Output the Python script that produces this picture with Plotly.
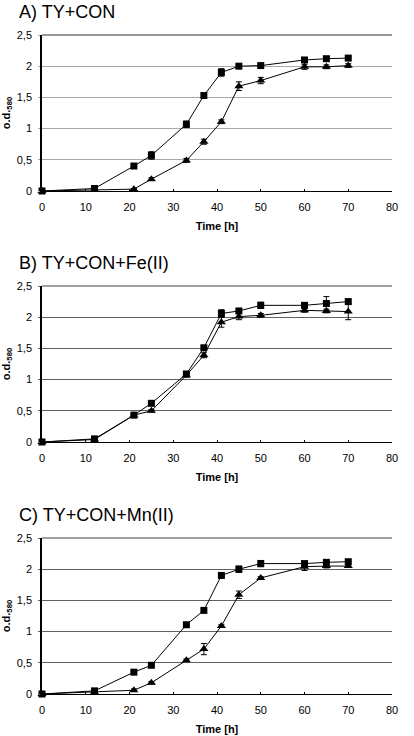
import plotly.graph_objects as go

time_h = [0, 12, 21, 25, 33, 37, 41, 45, 50, 60, 65, 70]

titles = ["A) TY+CON", "B) TY+CON+Fe(II)", "C) TY+CON+Mn(II)"]

sq_A = [0.0, 0.04, 0.40, 0.57, 1.07, 1.53, 1.90, 2.00, 2.01, 2.10, 2.12, 2.13]
sq_A_err = [0.01, 0.02, 0.02, 0.06, 0.05, 0.03, 0.06, 0.02, 0.03, 0.02, 0.02, 0.03]
tr_A = [0.0, 0.02, 0.03, 0.19, 0.49, 0.79, 1.11, 1.68, 1.77, 1.99, 1.99, 2.01]
tr_A_err = [0.01, 0.01, 0.01, 0.02, 0.03, 0.04, 0.03, 0.07, 0.05, 0.04, 0.03, 0.03]

sq_B = [0.0, 0.05, 0.43, 0.62, 1.09, 1.51, 2.06, 2.10, 2.19, 2.19, 2.22, 2.25]
sq_B_err = [0.01, 0.01, 0.02, 0.02, 0.03, 0.03, 0.06, 0.02, 0.05, 0.03, 0.11, 0.04]
tr_B = [0.0, 0.04, 0.43, 0.50, 1.07, 1.39, 1.92, 2.01, 2.03, 2.11, 2.10, 2.09]
tr_B_err = [0.01, 0.01, 0.02, 0.02, 0.03, 0.04, 0.08, 0.05, 0.03, 0.03, 0.03, 0.13]

sq_C = [0.0, 0.05, 0.35, 0.46, 1.11, 1.34, 1.90, 2.00, 2.09, 2.09, 2.11, 2.12]
sq_C_err = [0.01, 0.02, 0.02, 0.02, 0.03, 0.03, 0.02, 0.05, 0.05, 0.03, 0.02, 0.03]
tr_C = [0.0, 0.03, 0.06, 0.18, 0.54, 0.72, 1.09, 1.59, 1.86, 2.04, 2.05, 2.05]
tr_C_err = [0.01, 0.01, 0.02, 0.02, 0.02, 0.09, 0.02, 0.06, 0.02, 0.06, 0.03, 0.02]

y_ticks = [0, 0.5, 1, 1.5, 2, 2.5]
x_ticks = [0, 10, 20, 30, 40, 50, 60, 70, 80]

panels = [
    (sq_A, sq_A_err, tr_A, tr_A_err),
    (sq_B, sq_B_err, tr_B, tr_B_err),
    (sq_C, sq_C_err, tr_C, tr_C_err),
]

H = 736.0
W = 414.0
plot_tops = [35, 286, 538]
plot_h = 156
x0, x1 = 42 / W, 392 / W
grid_colors = ["#a8a8a8", "#606060", "#606060"]
top_colors = ["#333333", "#444444", "#444444"]
FONT = "Arial, Liberation Sans, sans-serif"

fig = go.Figure()
layout = dict(
    width=414, height=736,
    margin=dict(l=0, r=0, t=0, b=0),
    paper_bgcolor="white", plot_bgcolor="white",
    showlegend=False,
    separators=", ",
    font=dict(family=FONT, size=11, color="black"),
)
annotations = []
shapes = []
for i, (sq, sqe, tr, tre) in enumerate(panels):
    n = i + 1
    xa = "x" if n == 1 else f"x{n}"
    ya = "y" if n == 1 else f"y{n}"
    top = plot_tops[i]
    d0 = 1 - (top + plot_h) / H
    d1 = 1 - top / H
    common = dict(x=time_h, xaxis=xa, yaxis=ya, mode="lines+markers",
                  line=dict(color="black", width=1), cliponaxis=False)
    fig.add_trace(go.Scatter(y=tr, marker=dict(symbol="triangle-up", size=8, color="black"),
                             error_y=dict(type="data", array=tre, color="black", thickness=1, width=3),
                             **common))
    fig.add_trace(go.Scatter(y=sq, marker=dict(symbol="square", size=7, color="black"),
                             error_y=dict(type="data", array=sqe, color="black", thickness=1, width=3),
                             **common))
    layout[f"xaxis{n if n > 1 else ''}"] = dict(
        domain=[x0, x1], anchor=ya, range=[0, 80], tickvals=x_ticks,
        showgrid=False, zeroline=False, showline=True, linecolor="black", linewidth=1,
        ticks="inside", ticklen=2, tickcolor="black", automargin=False,
        ticklabelstandoff=6,
        title=dict(text="<b>Time [h]</b>", font=dict(size=11), standoff=10),
        tickfont=dict(size=11),
    )
    layout[f"yaxis{n if n > 1 else ''}"] = dict(
        domain=[d0, d1], anchor=xa, range=[0, 2.5], tickvals=y_ticks,
        showgrid=True, gridcolor=grid_colors[i], gridwidth=1, zeroline=False,
        showline=True, linecolor="black", linewidth=1.5,
        ticks="outside", ticklen=2, tickcolor=grid_colors[i], automargin=False,
        ticklabelstandoff=4,
        title=dict(text="<b>o.d.<sub>580</sub></b>", font=dict(size=11), standoff=4),
        tickfont=dict(size=11),
    )
    shapes.append(dict(type="line", xref=f"{xa} domain", yref=f"{ya} domain",
                       x0=0, x1=1, y0=1, y1=1, line=dict(color=top_colors[i], width=1)))
    annotations.append(dict(text=titles[i], xref="paper", yref="paper",
                            x=17 / W, y=1 - (top - 23) / H, xanchor="left", yanchor="middle",
                            showarrow=False, font=dict(size=18, family=FONT)))
layout["annotations"] = annotations
layout["shapes"] = shapes
fig.update_layout(**layout)
fig.write_html("out.html", config={"displayModeBar": False},
               post_script="document.body.style.margin='0';document.body.style.overflow='hidden';")
